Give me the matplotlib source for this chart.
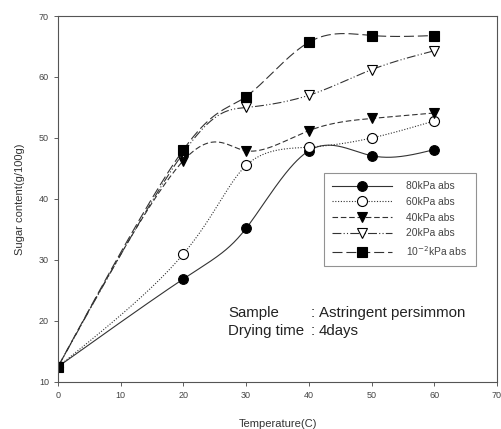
import numpy as np
import matplotlib
matplotlib.use("Agg")
import matplotlib.pyplot as plt

plt.rcParams['font.family'] = ['Liberation Sans', 'DejaVu Sans']

temps = [0, 20, 30, 40, 50, 60]
s80 = [12.5, 26.9, 35.2, 47.9, 47.1, 48.1]
s60 = [12.5, 31.0, 45.5, 48.5, 50.0, 52.8]
s40 = [12.5, 46.3, 47.9, 51.2, 53.2, 54.1]
s20 = [12.5, 47.6, 55.0, 57.0, 61.2, 64.3]
s001 = [12.5, 48.1, 56.8, 65.7, 66.8, 66.8]
labels = ['80kPa abs', '60kPa abs', '40kPa abs', '20kPa abs', r'10$^{-2}$kPa abs']
xticks = [0, 10, 20, 30, 40, 50, 60, 70]
yticks = [10, 20, 30, 40, 50, 60, 70]


def nat_coeffs(t, y):
    k = len(t); h = np.diff(t)
    A = np.zeros((k, k)); b = np.zeros(k)
    A[0, 0] = 1; A[-1, -1] = 1
    for i in range(1, k - 1):
        A[i, i - 1] = h[i - 1]; A[i, i] = 2 * (h[i - 1] + h[i]); A[i, i + 1] = h[i]
        b[i] = 3 * ((y[i + 1] - y[i]) / h[i] - (y[i] - y[i - 1]) / h[i - 1])
    return np.linalg.solve(A, b)


def eval_spline(t, y, c, ts):
    h = np.diff(t); out = np.empty_like(ts); k = len(t)
    for j, tv in enumerate(ts):
        i = min(np.searchsorted(t, tv, side='right') - 1, k - 2)
        d = tv - t[i]
        bi = (y[i + 1] - y[i]) / h[i] - h[i] * (2 * c[i] + c[i + 1]) / 3
        di = (c[i + 1] - c[i]) / (3 * h[i])
        out[j] = y[i] + bi * d + c[i] * d ** 2 + di * d ** 3
    return out


def param_spline(x, y, n=400):
    x = np.asarray(x, float); y = np.asarray(y, float)
    t = np.arange(len(x), dtype=float)
    ts = np.linspace(0, t[-1], n)
    xs = eval_spline(t, x, nat_coeffs(t, x), ts)
    ys = eval_spline(t, y, nat_coeffs(t, y), ts)
    return xs, ys


fig = plt.figure(figsize=(5.01, 4.29), dpi=100)
ax = fig.add_axes([0.1158, 0.1096, 0.8762, 0.8531])

series = [s80, s60, s40, s20, s001]
styles = [
    dict(ls='-', marker='o', mfc='black', ms=7),
    dict(ls=(0, (1, 1.5)), marker='o', mfc='white', ms=7.2),
    dict(ls=(0, (5, 2.5)), marker='v', mfc='black', ms=7.8),
    dict(ls=(0, (8, 2, 1, 2, 1, 2)), marker='v', mfc='white', ms=7.8),
    dict(ls=(0, (9, 3.5)), marker='s', mfc='black', ms=6.8),
]
handles = []
for data, st, lab in zip(series, styles, labels):
    xs, ys = param_spline(temps, data)
    ax.plot(xs, ys, color='#333333', lw=0.8, ls=st['ls'])
    ax.plot(temps, data, ls='none', marker=st['marker'], mfc=st['mfc'],
            mec='black', mew=0.8, ms=st['ms'])
    h, = ax.plot([], [], color='#333333', lw=0.8, ls=st['ls'], marker=st['marker'],
                 mfc=st['mfc'], mec='black', mew=0.8, ms=st['ms'], label=lab)
    handles.append(h)

ax.set_xlim(0, 70)
ax.set_ylim(10, 70)
ax.set_xticks(xticks)
ax.set_yticks(yticks)
ax.tick_params(direction='out', length=3, width=0.6, labelsize=6.5, labelcolor='#444444',
               color='#444444')
for sp in ax.spines.values():
    sp.set_linewidth(0.8)
    sp.set_color('#555555')
ax.set_xlabel('Temperature(C)', fontsize=8, color='#333333', labelpad=14)
ax.set_ylabel('Sugar content(g/100g)', fontsize=8, color='#333333', labelpad=10)

leg = ax.legend(handles=handles, loc='upper left', bbox_to_anchor=(0.606, 0.571),
                fontsize=7.4, frameon=True, fancybox=False, edgecolor='#777777',
                handlelength=5.8, labelspacing=0.56, borderpad=0.8, handletextpad=1.4,
                borderaxespad=0)
leg.get_frame().set_linewidth(0.8)
for t in leg.get_texts():
    t.set_color('#444444')

def px(x, y):
    return ((x - 58) / 439.0, (382 - y) / 366.0)

for (lab, val, yy) in [('Sample', 'Astringent persimmon', 313), ('Drying time', '4days', 331)]:
    ax.text(*px(228, yy), lab, transform=ax.transAxes, fontsize=10.8, color='#222222', va='center')
    ax.text(*px(311, yy), ':', transform=ax.transAxes, fontsize=10.8, color='#222222', va='center')
    ax.text(*px(319, yy), val, transform=ax.transAxes, fontsize=10.8, color='#222222', va='center')

fig.savefig('out.png', dpi=100)
